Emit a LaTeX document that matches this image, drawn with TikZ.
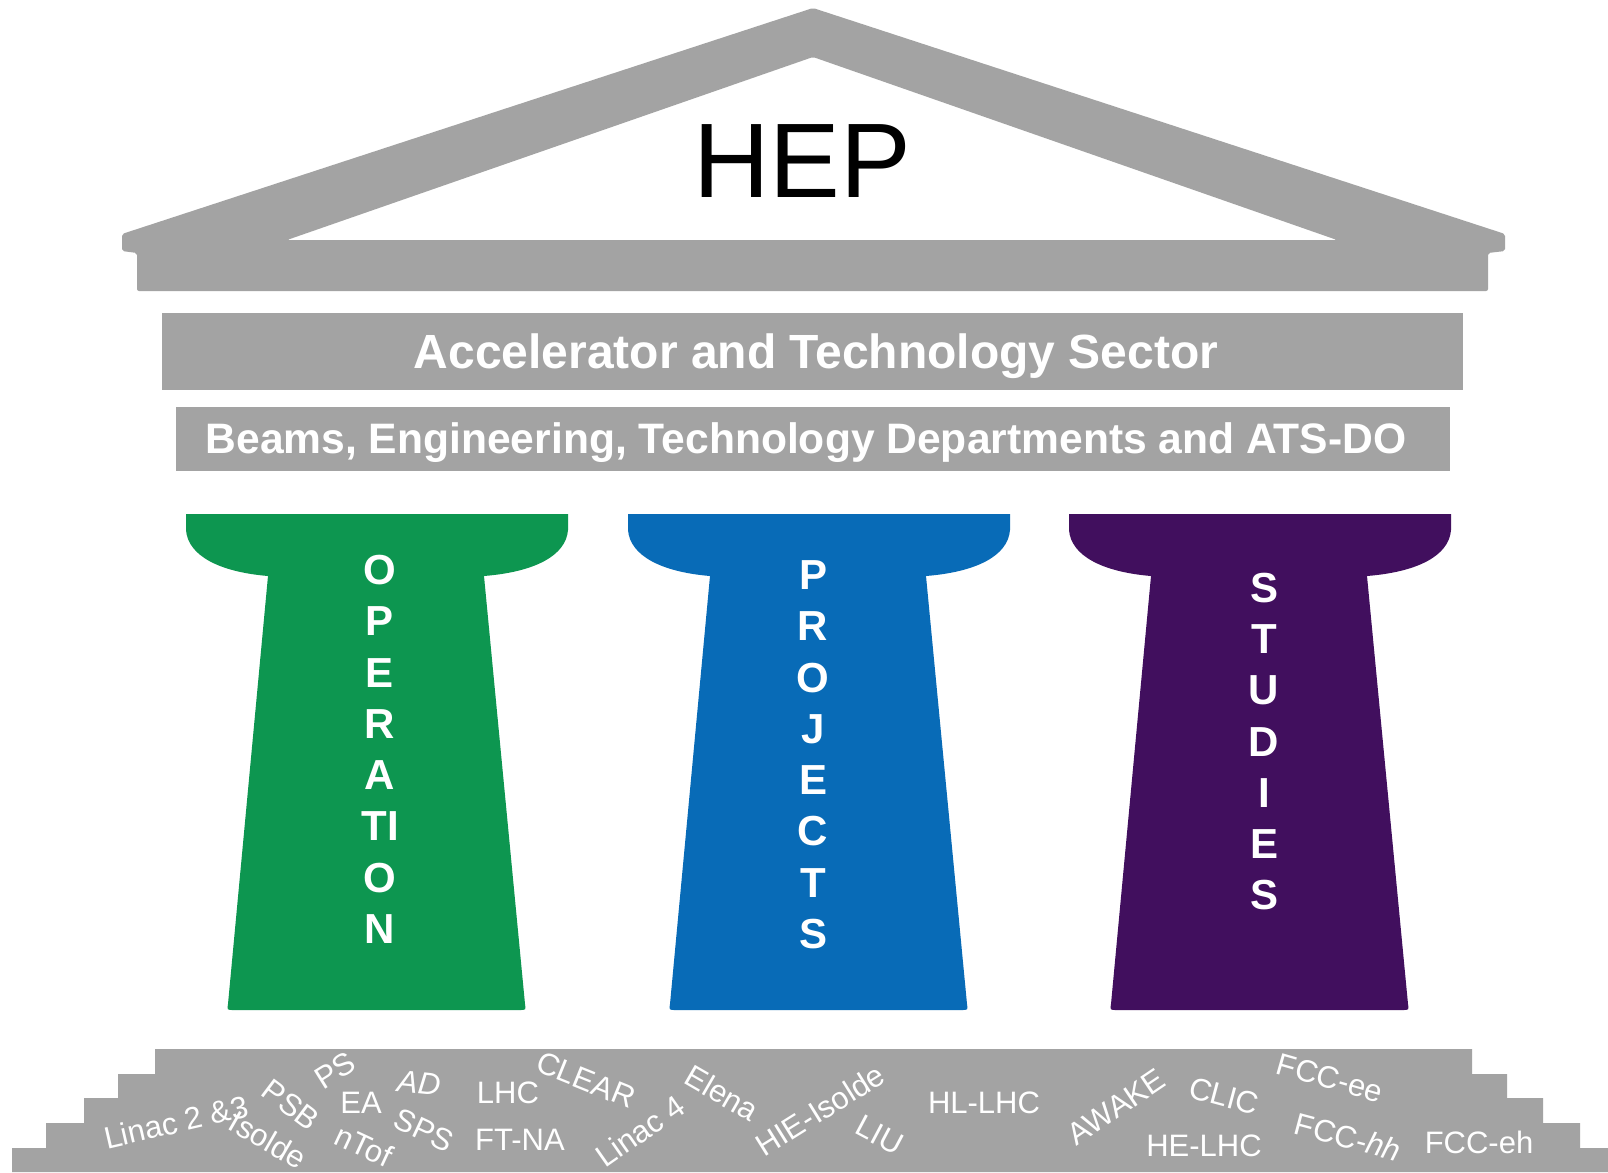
\documentclass[tikz,border=0pt]{standalone}
\usepackage{fontspec}
\setmainfont{Liberation Sans}
\definecolor{atsgray}{RGB}{163,163,163}
\definecolor{opgreen}{RGB}{13,150,80}
\definecolor{prblue}{RGB}{8,107,183}
\definecolor{stpurple}{RGB}{65,15,94}
\tikzset{
  pillar/.pic={
    \fill[pic actions] (186,530) -- (186,514) -- (568,514) -- (568,530)
      .. controls (566,556) and (534,572) .. (484,576)
      -- (525,1004) .. controls (526,1010) .. (519,1010)
      -- (234,1010) .. controls (227,1010) .. (228,1004)
      -- (268,576) .. controls (220,572) and (188,556) .. (186,530) -- cycle;
  },
  lbl/.style={text=white, inner sep=0pt, font=\fontsize{31}{37}\selectfont},
  colletter/.style={text=white, inner sep=0pt, font=\bfseries\fontsize{42}{50}\selectfont},
  bandtext/.style={text=white, inner sep=0pt, anchor=base},
}
\begin{document}
\begin{tikzpicture}[x=1pt, y=-1pt]
\useasboundingbox[fill=white] (0,0) rectangle (1608,1172);
% roof
\fill[atsgray, even odd rule, rounded corners=2pt]
  (813,8) -- (1505,234) -- (1505,251) -- (1488,253) -- (1488,291)
  -- (137,291) -- (137,253) -- (122,251) -- (122,234) -- cycle
  (813,57) -- (1337,240) -- (287,240) -- cycle;
\node[text=black, inner sep=0pt, anchor=base,
  font=\fontsize{106}{120}\selectfont] (hep) at (802,197) {HEP};
% bands
\fill[atsgray] (162,313) rectangle (1463,390);
\node[bandtext, font=\bfseries\fontsize{48}{56}\selectfont] (ats) at (816,368)
  {Accelerator and Technology Sector};
\fill[atsgray] (176,407) rectangle (1450,471);
\node[bandtext, font=\bfseries\fontsize{42.6}{50}\selectfont] (depts) at (806,453)
  {Beams, Engineering, Technology Departments and ATS-DO};
% pillars
\pic[fill=opgreen] at (0,0) {pillar};
\pic[fill=prblue] at (442,0) {pillar};
\pic[fill=stpurple] at (883,0) {pillar};
\foreach \l [count=\i] in {O,P,E,R,A,TI,O,N}
  \node[colletter] (op\i) at (380,{570+51.3*(\i-1)}) {\l};
\foreach \l [count=\i] in {P,R,O,J,E,C,T,S}
  \node[colletter] (pr\i) at (813,{575+51.3*(\i-1)}) {\l};
\foreach \l [count=\i] in {S,T,U,D,I,E,S}
  \node[colletter] (st\i) at (1264,{588+51.2*(\i-1)}) {\l};
% steps
\fill[atsgray] (12,1172) -- (12,1148) -- (46,1148) -- (46,1123) -- (84,1123)
  -- (84,1098) -- (118,1098) -- (118,1074) -- (155,1074) -- (155,1049)
  -- (1472,1049) -- (1472,1074) -- (1507,1074) -- (1507,1098) -- (1543,1098)
  -- (1543,1123) -- (1580,1123) -- (1580,1148) -- (1608,1148) -- (1608,1172) -- cycle;
% labels
\node[lbl, rotate=13] (linac23) at (176,1122) {Linac 2 \&3};
\node[lbl, rotate=-30] (isolde) at (268,1140) {Isolde};
\node[lbl, rotate=-37] (psb) at (291,1105) {PSB};
\node[lbl, rotate=32] (ps) at (335,1070) {PS};
\node[lbl] (ea) at (361,1103) {EA};
\node[lbl, rotate=-25] (ntof) at (364,1146) {nTof};
\node[lbl, rotate=-6, font=\itshape\fontsize{31}{37}\selectfont] (ad) at (419,1083) {AD};
\node[lbl, rotate=-25] (sps) at (424,1130) {SPS};
\node[lbl] (lhc) at (508,1093) {LHC};
\node[lbl] (ftna) at (520,1140) {FT-NA};
\node[lbl, rotate=-22] (clear) at (586,1080) {CLEAR};
\node[lbl, rotate=35] (linac4) at (640,1131) {Linac 4};
\node[lbl, rotate=-30] (elena) at (722,1093) {Elena};
\node[lbl, rotate=32] (hieisolde) at (820,1110) {HIE-Isolde};
\node[lbl, rotate=-28] (liu) at (880,1135) {LIU};
\node[lbl] (hllhc) at (984,1103) {HL-LHC};
\node[lbl, rotate=34] (awake) at (1116,1107) {AWAKE};
\node[lbl, rotate=-15] (clic) at (1224,1096) {CLIC};
\node[lbl] (helhc) at (1204,1146) {HE-LHC};
\node[lbl, rotate=-16] (fccee) at (1330,1078) {FCC-ee};
\node[lbl, rotate=-15] (fcchh) at (1348,1137) {FCC-\textit{hh}};
\node[lbl] (fcceh) at (1479,1142) {FCC-eh};
\end{tikzpicture}
\end{document}
